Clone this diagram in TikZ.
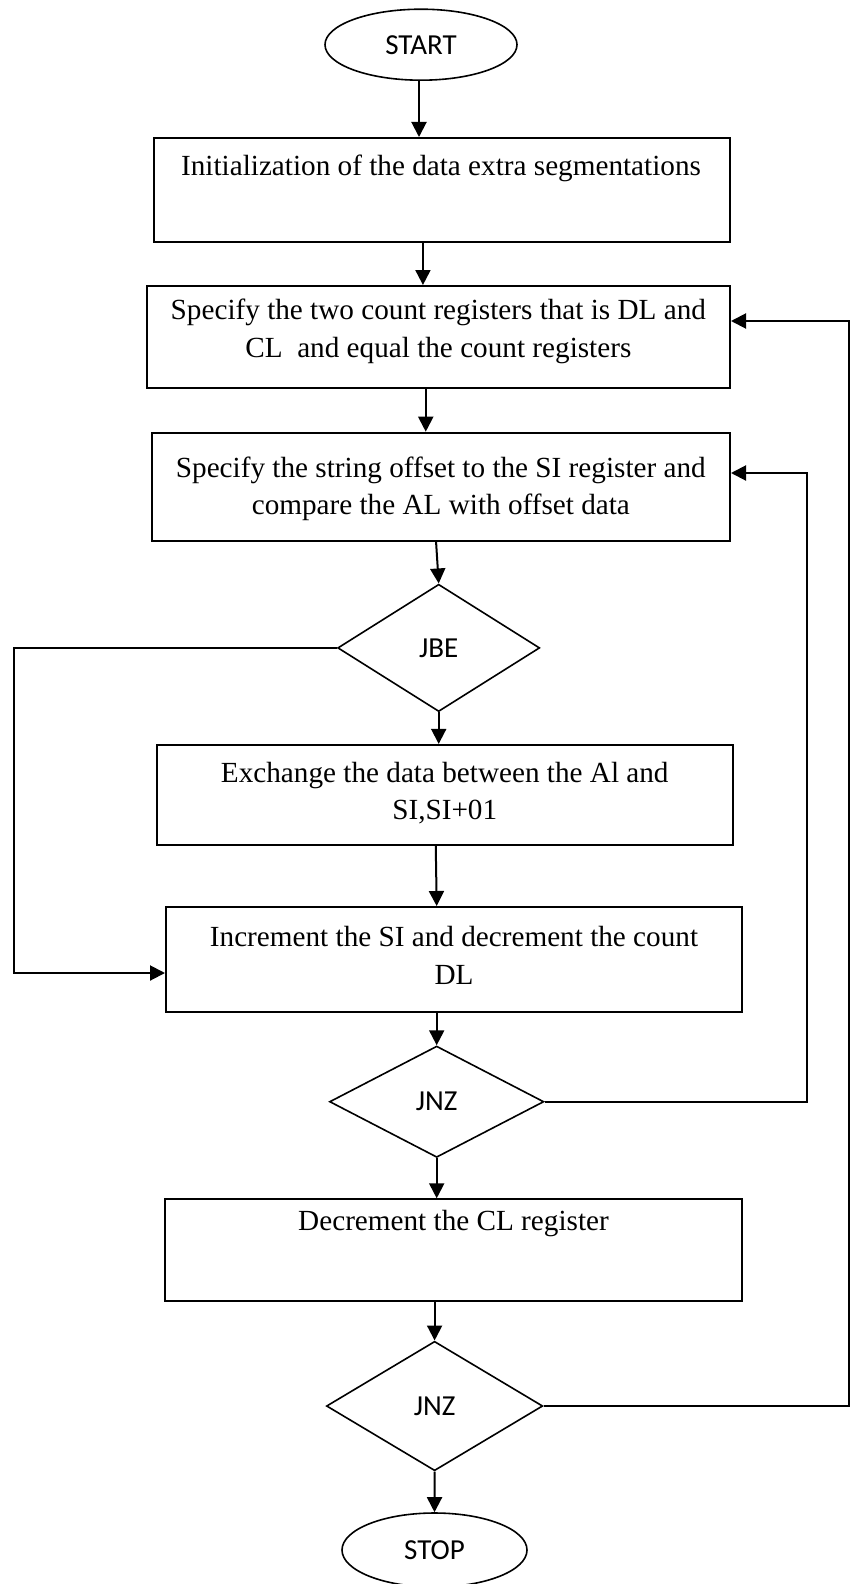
\documentclass[tikz,border=0pt]{standalone}
\usepackage{fontspec}
\setmainfont{Liberation Serif}
\newfontfamily\calfont{Carlito}
\usetikzlibrary{shapes.geometric,arrows.meta}
\begin{document}
\begin{tikzpicture}[x=0.5pt,y=-0.5pt,
  procbox/.style={draw,line width=1pt,rectangle,inner sep=0pt},
  boxtext/.style={align=center,inner sep=0pt,font=\fontsize{14.6}{18.6}\selectfont},
  terminal/.style={draw,line width=0.8pt,ellipse,inner sep=0pt,font=\calfont\fontsize{14.5}{17}\selectfont},
  decision/.style={draw,line width=0.8pt,diamond,inner sep=0pt,font=\calfont\fontsize{14.5}{17}\selectfont},
  arr/.style={line width=1pt,-{Triangle[length=7.5pt,width=7.5pt]}},
  lane/.style={line width=1pt}]
\useasboundingbox (0,0) rectangle (850,1584);

% terminals and decisions
\node[terminal,minimum width=96pt,minimum height=35.5pt] (start) at (421,44.7) {START};
\node[decision,minimum width=101pt,minimum height=63.65pt] (jbe) at (438.7,647.9) {JBE};
\node[decision,minimum width=107.15pt,minimum height=55.65pt] (jnz1) at (436.7,1101.7) {JNZ};
\node[decision,minimum width=108.15pt,minimum height=64.7pt] (jnz2) at (434.6,1406) {JNZ};
\node[terminal,minimum width=92.5pt,minimum height=37pt] (stop) at (434.5,1550) {STOP};

% process boxes
\node[procbox,minimum width=288.25pt,minimum height=52pt] (b1) at (441.75,190) {};
\node[procbox,minimum width=291.65pt,minimum height=50.85pt] (b2) at (438.35,336.85) {};
\node[procbox,minimum width=289.15pt,minimum height=54pt] (b3) at (440.85,486.7) {};
\node[procbox,minimum width=288.05pt,minimum height=50.05pt] (b4) at (444.75,794.95) {};
\node[procbox,minimum width=288pt,minimum height=52.35pt] (b5) at (454,959.35) {};
\node[procbox,minimum width=288.5pt,minimum height=50.7pt] (b6) at (453.5,1250) {};

% box texts
\node[boxtext,anchor=base] (t1) at (441,175) {Initialization of the data extra segmentations};
\node[boxtext] (t2) at (438.35,331.4) {Specify the two count registers that is DL and\\CL\ \ and equal the count registers};
\node[boxtext] (t3) at (440.85,488.6) {Specify the string offset to the SI register and\\compare the AL with offset data};
\node[boxtext] (t4) at (444.75,793.1) {Exchange the data between the Al and\\SI,SI+01};
\node[boxtext] (t5) at (454,955.4) {Increment the SI and decrement the count\\DL};
\node[boxtext,anchor=base] (t6) at (453.5,1230) {Decrement the CL register};

% lanes for the loop-backs
\coordinate (laneL) at (14,0);
\coordinate (laneR1) at (807,0);
\coordinate (laneR2) at (849,0);

% main flow
\draw[arr] ([xshift=-1pt]start.south) -- ([xshift=-1pt]start.south |- b1.north);
\draw[arr] ([xshift=-9.4pt]b1.south) -- ([xshift=-9.4pt]b1.south |- b2.north);
\draw[arr] ([xshift=-6.3pt]b2.south) -- ([xshift=-6.3pt]b2.south |- b3.north);
\draw[arr] ([xshift=-2.4pt]b3.south) -- (jbe.north);
\draw[arr] (jbe.south) -- (jbe.south |- b4.north);
\draw[arr] ([xshift=-4.5pt]b4.south) -- (jnz1.north |- b5.north);
\draw[arr] (jnz1.north |- b5.south) -- (jnz1.north);
\draw[arr] (jnz1.south) -- (jnz1.south |- b6.north);
\draw[arr] (jnz2.north |- b6.south) -- (jnz2.north);
\draw[arr] (jnz2.south) -- (stop.north);

% JBE taken: skip the exchange
\draw[arr] (jbe.west) -- (jbe.west -| laneL) |- ([yshift=-6.825pt]b5.west);
% inner loop back to the compare step
\draw[arr] (jnz1.east) -- (jnz1.east -| laneR1) |- ([yshift=6.85pt]b3.east);
% outer loop back to the count registers
\draw[arr] (jnz2.east) -- (jnz2.east -| laneR2) |- ([yshift=7.925pt]b2.east);
\end{tikzpicture}
\end{document}
